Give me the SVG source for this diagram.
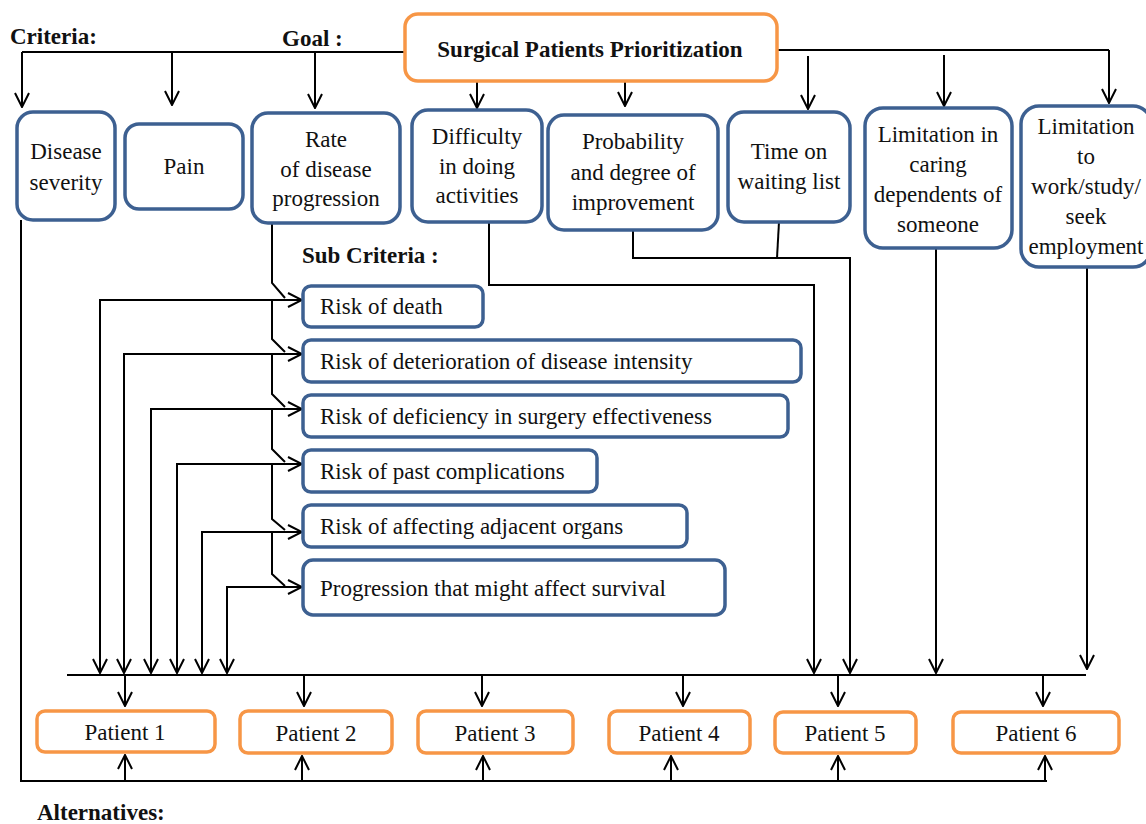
<svg xmlns="http://www.w3.org/2000/svg" width="1146" height="824" viewBox="0 0 1146 824">
  <defs>
    <marker id="arr" viewBox="0 0 16 16" refX="15" refY="8" markerWidth="16" markerHeight="16" markerUnits="userSpaceOnUse" orient="auto">
      <path d="M1,1 L15,8 L1,15" fill="none" stroke="#000" stroke-width="2"/>
    </marker>
  </defs>
  <rect width="1146" height="824" fill="#fff"/>

  <!-- section headings -->
  <g id="headings" fill="#111">
    <text font-family="Liberation Serif" font-size="23" font-weight="bold" x="10" y="44">Criteria:</text>
    <text font-family="Liberation Serif" font-size="23" font-weight="bold" x="282" y="46">Goal :</text>
    <text font-family="Liberation Serif" font-size="23" font-weight="bold" x="302" y="263">Sub Criteria :</text>
    <text font-family="Liberation Serif" font-size="23" font-weight="bold" x="37" y="820">Alternatives:</text>
  </g>

  <!-- connectors -->
  <g id="connectors" fill="none" stroke="#000" stroke-width="2">
    <!-- goal to criteria -->
    <path d="M405,52 H22"/>
    <path marker-end="url(#arr)" d="M22,52 V107"/>
    <path marker-end="url(#arr)" d="M172,52 V105"/>
    <path marker-end="url(#arr)" d="M315,52 V108"/>
    <path marker-end="url(#arr)" d="M477,82 V108"/>
    <path marker-end="url(#arr)" d="M625,82 V106"/>
    <path d="M777,50 H1109"/>
    <path marker-end="url(#arr)" d="M1109,50 V103"/>
    <path marker-end="url(#arr)" d="M808,56 V109"/>
    <path marker-end="url(#arr)" d="M944,55 V106"/>

    <!-- rate of progression to sub criteria branches -->
    <path d="M272,223 V283 L285,298 M272,300 V339 L285,352 M272,354 V394 L285,407 M272,409 V449 L285,462 M272,464 V519 L285,530 M272,532 V574 L285,586"/>

    <!-- sub criteria feeds -->
    <path marker-end="url(#arr)" d="M100,670 V300 H302"/>
    <path marker-end="url(#arr)" d="M124,670 V354 H302"/>
    <path marker-end="url(#arr)" d="M151,670 V409 H302"/>
    <path marker-end="url(#arr)" d="M177,670 V464 H302"/>
    <path marker-end="url(#arr)" d="M202,670 V532 H302"/>
    <path marker-end="url(#arr)" d="M227,670 V587 H302"/>
    <path marker-end="url(#arr)" d="M100,300 V673"/>
    <path marker-end="url(#arr)" d="M124,354 V673"/>
    <path marker-end="url(#arr)" d="M151,409 V673"/>
    <path marker-end="url(#arr)" d="M177,464 V673"/>
    <path marker-end="url(#arr)" d="M202,532 V673"/>
    <path marker-end="url(#arr)" d="M227,587 V673"/>

    <!-- remaining criteria down to the collector bar -->
    <path marker-end="url(#arr)" d="M489,222 V285 H814 V673"/>
    <path marker-end="url(#arr)" d="M633,230 V258 H850 V673"/>
    <path d="M779,222 L777,258"/>
    <path marker-end="url(#arr)" d="M936,248 V673"/>
    <path marker-end="url(#arr)" d="M1087,267 V669"/>

    <!-- collector bar to patients -->
    <path d="M67,675 H1086"/>
    <path marker-end="url(#arr)" d="M125,675 V706"/>
    <path marker-end="url(#arr)" d="M304,675 V706"/>
    <path marker-end="url(#arr)" d="M482,675 V706"/>
    <path marker-end="url(#arr)" d="M683,675 V706"/>
    <path marker-end="url(#arr)" d="M838,675 V706"/>
    <path marker-end="url(#arr)" d="M1043,675 V706"/>

    <!-- disease severity loop to patients from below -->
    <path d="M21,220 V781 H1047"/>
    <path marker-end="url(#arr)" d="M125,781 V755"/>
    <path marker-end="url(#arr)" d="M302,781 V756"/>
    <path marker-end="url(#arr)" d="M483,781 V756"/>
    <path marker-end="url(#arr)" d="M671,781 V756"/>
    <path marker-end="url(#arr)" d="M838,781 V756"/>
    <path marker-end="url(#arr)" d="M1045,781 V756"/>
  </g>

  <!-- goal -->
  <g id="goal">
    <rect x="405" y="14" width="372" height="67" rx="13" fill="#fff" stroke="#F79646" stroke-width="3.5"/>
    <text font-family="Liberation Serif" font-size="23" font-weight="bold" fill="#111" x="590" y="57" text-anchor="middle">Surgical Patients Prioritization</text>
  </g>

  <!-- criteria -->
  <g id="criteria" fill="#fff" stroke="#3D6091" stroke-width="3.5">
    <g id="crit-severity">
      <rect x="17" y="112" width="98" height="108" rx="16"/>
      <text font-family="Liberation Serif" font-size="23" text-anchor="middle" fill="#111" stroke="none" x="66" y="159">Disease</text>
      <text font-family="Liberation Serif" font-size="23" text-anchor="middle" fill="#111" stroke="none" x="66" y="190">severity</text>
    </g>
    <g id="crit-pain">
      <rect x="125" y="124" width="118" height="85" rx="14"/>
      <text font-family="Liberation Serif" font-size="23" text-anchor="middle" fill="#111" stroke="none" x="184" y="174">Pain</text>
    </g>
    <g id="crit-rate">
      <rect x="252" y="113" width="148" height="110" rx="16"/>
      <text font-family="Liberation Serif" font-size="23" text-anchor="middle" fill="#111" stroke="none" x="326" y="147">Rate</text>
      <text font-family="Liberation Serif" font-size="23" text-anchor="middle" fill="#111" stroke="none" x="326" y="177">of disease</text>
      <text font-family="Liberation Serif" font-size="23" text-anchor="middle" fill="#111" stroke="none" x="326" y="206">progression</text>
    </g>
    <g id="crit-difficulty">
      <rect x="412" y="110" width="130" height="112" rx="16"/>
      <text font-family="Liberation Serif" font-size="23" text-anchor="middle" fill="#111" stroke="none" x="477" y="144">Difficulty</text>
      <text font-family="Liberation Serif" font-size="23" text-anchor="middle" fill="#111" stroke="none" x="477" y="174">in doing</text>
      <text font-family="Liberation Serif" font-size="23" text-anchor="middle" fill="#111" stroke="none" x="477" y="203">activities</text>
    </g>
    <g id="crit-improvement">
      <rect x="548" y="115" width="170" height="115" rx="16"/>
      <text font-family="Liberation Serif" font-size="23" text-anchor="middle" fill="#111" stroke="none" x="633" y="149">Probability</text>
      <text font-family="Liberation Serif" font-size="23" text-anchor="middle" fill="#111" stroke="none" x="633" y="180">and degree of</text>
      <text font-family="Liberation Serif" font-size="23" text-anchor="middle" fill="#111" stroke="none" x="633" y="210">improvement</text>
    </g>
    <g id="crit-waiting">
      <rect x="728" y="112" width="122" height="110" rx="16"/>
      <text font-family="Liberation Serif" font-size="23" text-anchor="middle" fill="#111" stroke="none" x="789" y="159">Time on</text>
      <text font-family="Liberation Serif" font-size="23" text-anchor="middle" fill="#111" stroke="none" x="789" y="189">waiting list</text>
    </g>
    <g id="crit-caring">
      <rect x="865" y="108" width="147" height="140" rx="18"/>
      <text font-family="Liberation Serif" font-size="23" text-anchor="middle" fill="#111" stroke="none" x="938" y="142">Limitation in</text>
      <text font-family="Liberation Serif" font-size="23" text-anchor="middle" fill="#111" stroke="none" x="938" y="172">caring</text>
      <text font-family="Liberation Serif" font-size="23" text-anchor="middle" fill="#111" stroke="none" x="938" y="202">dependents of</text>
      <text font-family="Liberation Serif" font-size="23" text-anchor="middle" fill="#111" stroke="none" x="938" y="232">someone</text>
    </g>
    <g id="crit-work">
      <rect x="1021" y="106" width="130" height="161" rx="18"/>
      <text font-family="Liberation Serif" font-size="23" text-anchor="middle" fill="#111" stroke="none" x="1086" y="134">Limitation</text>
      <text font-family="Liberation Serif" font-size="23" text-anchor="middle" fill="#111" stroke="none" x="1086" y="164">to</text>
      <text font-family="Liberation Serif" font-size="23" text-anchor="middle" fill="#111" stroke="none" x="1086" y="194">work/study/</text>
      <text font-family="Liberation Serif" font-size="23" text-anchor="middle" fill="#111" stroke="none" x="1086" y="224">seek</text>
      <text font-family="Liberation Serif" font-size="23" text-anchor="middle" fill="#111" stroke="none" x="1086" y="254">employment</text>
    </g>
  </g>

  <!-- sub criteria -->
  <g id="sub-criteria" fill="#fff" stroke="#3D6091" stroke-width="3.5">
    <g id="sub-death">
      <rect x="303" y="286" width="180" height="41" rx="8"/>
      <text font-family="Liberation Serif" font-size="23" fill="#111" stroke="none" x="320" y="314">Risk of death</text>
    </g>
    <g id="sub-deterioration">
      <rect x="303" y="340" width="498" height="42" rx="8"/>
      <text font-family="Liberation Serif" font-size="23" fill="#111" stroke="none" x="320" y="369">Risk of deterioration of disease intensity</text>
    </g>
    <g id="sub-effectiveness">
      <rect x="303" y="395" width="485" height="42" rx="8"/>
      <text font-family="Liberation Serif" font-size="23" fill="#111" stroke="none" x="320" y="424">Risk of deficiency in surgery effectiveness</text>
    </g>
    <g id="sub-complications">
      <rect x="303" y="450" width="294" height="42" rx="8"/>
      <text font-family="Liberation Serif" font-size="23" fill="#111" stroke="none" x="320" y="479">Risk of past complications</text>
    </g>
    <g id="sub-organs">
      <rect x="303" y="505" width="384" height="42" rx="8"/>
      <text font-family="Liberation Serif" font-size="23" fill="#111" stroke="none" x="320" y="534">Risk of affecting adjacent organs</text>
    </g>
    <g id="sub-survival">
      <rect x="303" y="560" width="422" height="55" rx="10"/>
      <text font-family="Liberation Serif" font-size="23" fill="#111" stroke="none" x="320" y="596">Progression that might affect survival</text>
    </g>
  </g>

  <!-- alternatives -->
  <g id="alternatives" fill="#fff" stroke="#F79646" stroke-width="3.5">
    <g id="patient-1">
      <rect x="37" y="711" width="178" height="41" rx="8"/>
      <text font-family="Liberation Serif" font-size="23" text-anchor="middle" fill="#111" stroke="none" x="125" y="740">Patient 1</text>
    </g>
    <g id="patient-2">
      <rect x="240" y="711" width="152" height="42" rx="8"/>
      <text font-family="Liberation Serif" font-size="23" text-anchor="middle" fill="#111" stroke="none" x="316" y="741">Patient 2</text>
    </g>
    <g id="patient-3">
      <rect x="418" y="711" width="155" height="42" rx="8"/>
      <text font-family="Liberation Serif" font-size="23" text-anchor="middle" fill="#111" stroke="none" x="495" y="741">Patient 3</text>
    </g>
    <g id="patient-4">
      <rect x="609" y="711" width="141" height="42" rx="8"/>
      <text font-family="Liberation Serif" font-size="23" text-anchor="middle" fill="#111" stroke="none" x="679" y="741">Patient 4</text>
    </g>
    <g id="patient-5">
      <rect x="775" y="712" width="141" height="41" rx="8"/>
      <text font-family="Liberation Serif" font-size="23" text-anchor="middle" fill="#111" stroke="none" x="845" y="741">Patient 5</text>
    </g>
    <g id="patient-6">
      <rect x="953" y="712" width="166" height="41" rx="8"/>
      <text font-family="Liberation Serif" font-size="23" text-anchor="middle" fill="#111" stroke="none" x="1036" y="741">Patient 6</text>
    </g>
  </g>
</svg>
